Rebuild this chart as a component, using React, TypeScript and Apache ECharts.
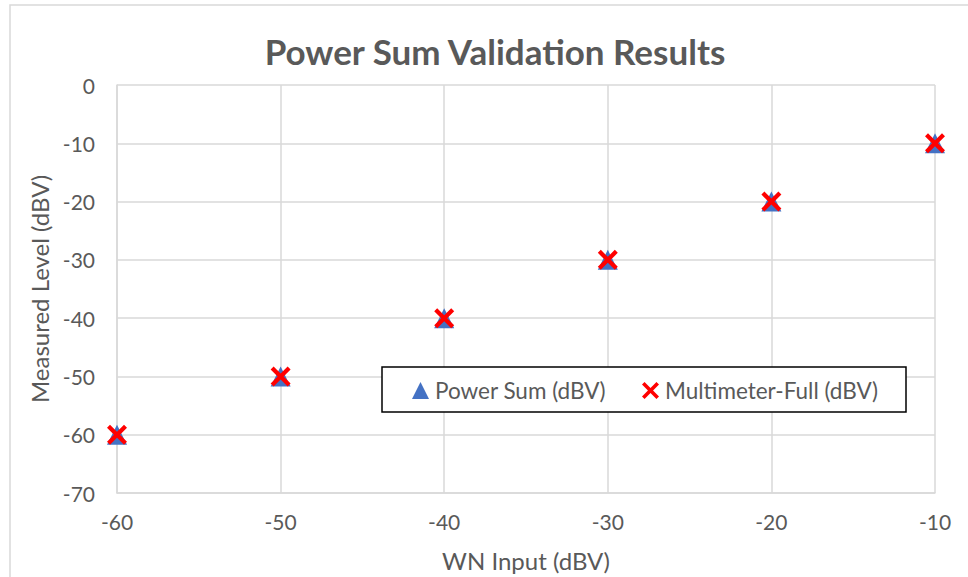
import React, { useEffect, useRef } from "react";
import * as echarts from "echarts";

const xValues = [-60, -50, -40, -30, -20, -10];
const powerSum = [-60, -50, -40, -30, -20, -10];
const multimeterFull = [-60, -50, -40, -30, -20, -10];
const seriesNames = ["Power Sum (dBV)", "Multimeter-Full (dBV)"];
const titleText = "Power Sum Validation Results";
const xAxisName = "WN Input (dBV)";
const yAxisName = "Measured Level (dBV)";

const FONT = "Lato, 'Open Sans', 'Liberation Sans', sans-serif";
const GRAY = "#595959";
const X_SYMBOL =
  "path://M3,0 L10,7 L17,0 L20,3 L13,10 L20,17 L17,20 L10,13 L3,20 L0,17 L7,10 L0,3 Z";

export default function App() {
  const ref = useRef<HTMLDivElement>(null);
  useEffect(() => {
    if (!ref.current) return;
    const chart = echarts.init(ref.current, undefined, { renderer: "svg" });
    const ps = xValues.map((x, i) => [x, powerSum[i]]);
    const mm = xValues.map((x, i) => [x, multimeterFull[i]]);
    const legendText = { fontFamily: FONT, fontSize: 22.5, color: GRAY, padding: [0, 0, 0, 1] };
    chart.setOption({
      animation: false,
      backgroundColor: "#ffffff",
      textStyle: { fontFamily: FONT },
      title: {
        text: titleText,
        left: 490,
        top: 28,
        textAlign: "center",
        textStyle: { fontFamily: FONT, fontSize: 35, fontWeight: "bold", color: GRAY },
      },
      graphic: [
        {
          type: "rect",
          shape: { x: 10, y: 5, width: 980, height: 600 },
          style: { fill: "none", stroke: "#d9d9d9", lineWidth: 1.5 },
          silent: true,
        },
        {
          type: "rect",
          shape: { x: 382, y: 367, width: 524, height: 45 },
          style: { fill: "#ffffff", stroke: "#000000", lineWidth: 1.5 },
          z: 5,
          silent: true,
        },
      ],
      legend: [
        {
          data: [seriesNames[0]],
          left: 412,
          top: 379,
          itemWidth: 17,
          itemHeight: 17,
          itemGap: 0,
          padding: 0,
          z: 10,
          textStyle: legendText,
        },
        {
          data: [seriesNames[1]],
          left: 642,
          top: 379,
          itemWidth: 17,
          itemHeight: 17,
          itemGap: 0,
          padding: 0,
          z: 10,
          textStyle: legendText,
        },
      ],
      grid: { left: 117, top: 85, right: 33, bottom: 84, containLabel: false },
      xAxis: {
        type: "value",
        min: -60,
        max: -10,
        interval: 10,
        name: xAxisName,
        nameLocation: "middle",
        nameGap: 55,
        nameTextStyle: { fontFamily: FONT, fontSize: 24, color: GRAY },
        axisLine: { show: true, onZero: false, lineStyle: { color: "#d9d9d9", width: 1.5 } },
        axisTick: { show: false },
        axisLabel: { margin: 18, fontFamily: FONT, fontSize: 21, color: GRAY },
        splitLine: { show: true, lineStyle: { color: "#d9d9d9", width: 1.5 } },
      },
      yAxis: {
        type: "value",
        min: -70,
        max: 0,
        interval: 10,
        name: yAxisName,
        nameLocation: "middle",
        nameGap: 65,
        nameTextStyle: { fontFamily: FONT, fontSize: 24, color: GRAY },
        axisLine: { show: true, onZero: false, lineStyle: { color: "#d9d9d9", width: 1.5 } },
        axisTick: { show: false },
        axisLabel: { margin: 22, fontFamily: FONT, fontSize: 21, color: GRAY },
        splitLine: { show: true, lineStyle: { color: "#d9d9d9", width: 1.5 } },
      },
      series: [
        {
          name: seriesNames[0],
          type: "scatter",
          data: ps,
          symbol: "triangle",
          symbolSize: 20,
          itemStyle: { color: "#4472C4", opacity: 1 },
          z: 2,
        },
        {
          name: seriesNames[1],
          type: "scatter",
          data: mm,
          symbol: X_SYMBOL,
          symbolSize: 20,
          itemStyle: { color: "#FF0000", opacity: 1 },
          z: 3,
        },
      ],
    });
    return () => chart.dispose();
  }, []);
  return (
    <div
      ref={ref}
      style={{ position: "absolute", left: 0, top: 0, width: 968, height: 577 }}
    />
  );
}
